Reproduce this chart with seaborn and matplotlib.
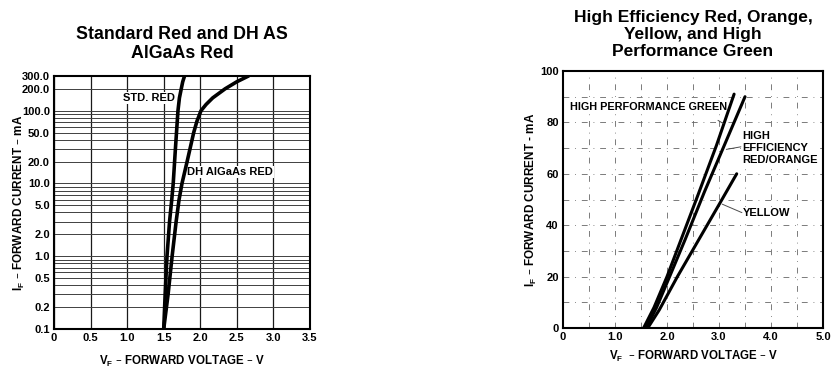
import numpy as np
import pandas as pd
import matplotlib
matplotlib.use("Agg")
import matplotlib.pyplot as plt
import seaborn as sns
from matplotlib.ticker import FixedLocator, MultipleLocator, NullFormatter

# left panel: log current vs voltage
std_red_v = [1.50, 1.52, 1.545, 1.58, 1.61, 1.63, 1.66, 1.695, 1.715, 1.74, 1.76, 1.785]
std_red_i = [0.1, 0.3, 1.0, 3.0, 6.0, 10.0, 30.0, 100.0, 150.0, 200.0, 250.0, 300.0]
dh_red_v = [1.50, 1.56, 1.615, 1.67, 1.71, 1.75, 1.82, 1.91, 1.955, 2.01, 2.08,
            2.17, 2.34, 2.50, 2.66]
dh_red_i = [0.1, 0.3, 1.0, 3.0, 6.0, 10.0, 20.0, 50.0, 72.0, 100.0, 122.0,
            150.0, 200.0, 250.0, 300.0]

left_yticks = [0.1, 0.2, 0.5, 1.0, 2.0, 5.0, 10.0, 20.0, 50.0, 100.0, 200.0, 300.0]
left_ylabels = ["0.1", "0.2", "0.5", "1.0", "2.0", "5.0", "10.0", "20.0",
                "50.0", "100.0", "200.0", "300.0"]
left_xticks = [0, 0.5, 1.0, 1.5, 2.0, 2.5, 3.0, 3.5]
left_xlabels = ["0", "0.5", "1.0", "1.5", "2.0", "2.5", "3.0", "3.5"]

# right panel: linear current vs voltage
green_v = [1.55, 1.75, 2.0, 2.3, 2.6, 2.95, 3.29]
green_i = [0, 8, 20, 36, 52, 71, 91]
her_v = [1.60, 1.80, 2.05, 2.35, 2.72, 3.10, 3.50]
her_i = [0, 8, 20, 34.5, 53, 71, 90]
yellow_v = [1.63, 1.85, 2.2, 2.6, 3.0, 3.34]
yellow_i = [0, 7, 20, 34, 48, 60]

right_xticks = [0, 1, 2, 3, 4, 5]
right_xlabels = ["0", "1.0", "2.0", "3.0", "4.0", "5.0"]
right_yticks = [0, 20, 40, 60, 80, 100]

sns.set_style("white")
plt.rcParams["font.family"] = ["Liberation Sans", "DejaVu Sans"]
plt.rcParams["text.color"] = "black"
plt.rcParams["axes.labelcolor"] = "black"
plt.rcParams["xtick.color"] = "black"
plt.rcParams["ytick.color"] = "black"

left_df = pd.concat([
    pd.DataFrame({"v": std_red_v, "i": std_red_i, "curve": "std"}),
    pd.DataFrame({"v": dh_red_v, "i": dh_red_i, "curve": "dh"}),
])
right_df = pd.concat([
    pd.DataFrame({"v": green_v, "i": green_i, "curve": "green"}),
    pd.DataFrame({"v": her_v, "i": her_i, "curve": "her"}),
    pd.DataFrame({"v": yellow_v, "i": yellow_i, "curve": "yellow"}),
])

fig = plt.figure(figsize=(8.31, 3.71), dpi=100)
ax1 = fig.add_axes([0.065, 0.1132, 0.308, 0.682])
ax2 = fig.add_axes([0.6775, 0.1159, 0.3129, 0.6927])

# ---- left ----
ax1.set_yscale("log")
ax1.set_xlim(0, 3.5)
ax1.set_ylim(0.1, 300)
minor_vals = []
for dec in [0.1, 1, 10, 100]:
    for k in range(1, 10):
        val = dec * k
        if val <= 300:
            minor_vals.append(val)
ax1.yaxis.set_minor_locator(FixedLocator(minor_vals))
ax1.yaxis.set_minor_formatter(NullFormatter())
ax1.yaxis.grid(True, which="both", color="0.25", lw=0.7)
ax1.xaxis.grid(True, color="0.1", lw=0.9)
ax1.set_yticks(left_yticks)
ax1.set_yticklabels(left_ylabels)
ax1.set_xticks(left_xticks)
ax1.set_xticklabels(left_xlabels)

sns.lineplot(data=left_df, x="v", y="i", units="curve", estimator=None,
             sort=False, color="black", lw=2.6, ax=ax1)

ax1.text(1.66, 150, "STD. RED", ha="right", va="center", fontsize=8, fontweight="bold",
         zorder=1.5, bbox=dict(fc="white", ec="none", pad=0.5))
ax1.text(1.82, 14.4, "DH AlGaAs RED", ha="left", va="center", fontsize=8, fontweight="bold",
         zorder=1.5, bbox=dict(fc="white", ec="none", pad=0.5))

ax1.set_title("Standard Red and DH AS\nAlGaAs Red", fontsize=12.8, fontweight="bold",
              linespacing=1.18, pad=13)
ax1.set_xlabel("V$_\\mathregular{F}$ – FORWARD VOLTAGE – V", fontsize=8.3, labelpad=8)
ax1.set_ylabel("I$_\\mathregular{F}$ – FORWARD CURRENT – mA", fontsize=8.5, labelpad=-4)

# ---- right ----
ax2.set_xlim(0, 5)
ax2.set_ylim(0, 100)
ax2.set_xticks(right_xticks)
ax2.set_xticklabels(right_xlabels)
ax2.set_yticks(right_yticks)
ax2.xaxis.set_minor_locator(MultipleLocator(0.5))
ax2.yaxis.set_minor_locator(MultipleLocator(10))
ax2.grid(True, which="both", color="0.4", lw=0.6, ls=(0, (7, 7, 1, 7)))

sns.lineplot(data=right_df, x="v", y="i", units="curve", estimator=None,
             sort=False, color="black", lw=2.2, ax=ax2)

ax2.text(0.13, 86, "HIGH PERFORMANCE GREEN", ha="left", va="center", fontsize=7.8,
         fontweight="bold", zorder=1.5, bbox=dict(fc="white", ec="none", pad=0.5))
ax2.plot([2.98, 3.08], [80.8, 79.6], color="0.3", lw=0.7)
ax2.text(3.45, 70, "HIGH\nEFFICIENCY\nRED/ORANGE", ha="left", va="center", fontsize=8,
         fontweight="bold", linespacing=1.25, zorder=1.5,
         bbox=dict(fc="white", ec="none", pad=0.5))
ax2.plot([3.14, 3.42], [69.5, 70.5], color="0.3", lw=0.7)
ax2.text(3.45, 44.7, "YELLOW", ha="left", va="center", fontsize=8, fontweight="bold",
         zorder=1.5, bbox=dict(fc="white", ec="none", pad=0.5))
ax2.plot([3.06, 3.44], [48.2, 44.9], color="0.3", lw=0.7)

ax2.set_title("High Efficiency Red, Orange,\nYellow, and High\nPerformance Green",
              fontsize=12.5, fontweight="bold", linespacing=1.16, pad=11)
ax2.set_xlabel("V$_\\mathregular{F}$  – FORWARD VOLTAGE – V", fontsize=8.3, labelpad=5)
ax2.set_ylabel("I$_\\mathregular{F}$ – FORWARD CURRENT - mA", fontsize=8.5, labelpad=1)

for ax in (ax1, ax2):
    ax.tick_params(axis="both", which="both", length=0, labelsize=8, pad=3)
    for lab in ax.get_xticklabels() + ax.get_yticklabels():
        lab.set_fontweight("bold")
    for s in ax.spines.values():
        s.set_color("black")
        s.set_linewidth(1.5)
    ax.xaxis.label.set_fontweight("bold")
    ax.yaxis.label.set_fontweight("bold")

fig.savefig("out.png", dpi=100)
